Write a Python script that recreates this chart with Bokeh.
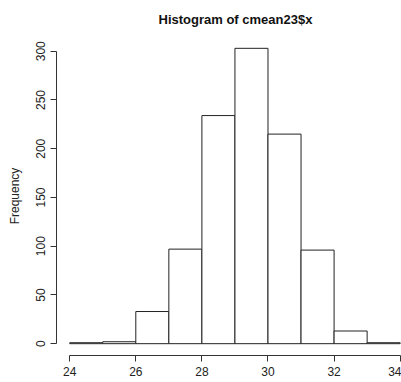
from bokeh.plotting import figure
from bokeh.models import Range1d, FixedTicker, ColumnDataSource
from bokeh.embed import file_html
from bokeh.resources import INLINE

# Histogram data (bin edges and counts)
bin_left = [24, 25, 26, 27, 28, 29, 30, 31, 32, 33]
bin_right = [25, 26, 27, 28, 29, 30, 31, 32, 33, 34]
counts = [1, 2, 33, 97, 234, 303, 215, 96, 13, 1]
x_ticks = [24, 26, 28, 30, 32, 34]
y_ticks = [0, 50, 100, 150, 200, 250, 300]
title_text = "Histogram of cmean23$x"
y_label = "Frequency"

FONT = "Liberation Sans"

src = ColumnDataSource(dict(left=bin_left, right=bin_right, top=counts, bottom=[0] * len(counts)))

p = figure(width=401, height=382, output_backend="svg", toolbar_location=None,
           x_range=Range1d(23.6, 34.04), y_range=Range1d(-12.12, 315.12),
           title=title_text)
p.min_border_left = 56
p.min_border_right = 0
p.min_border_top = 36
p.min_border_bottom = 27
p.outline_line_color = None
p.xgrid.grid_line_color = None
p.ygrid.grid_line_color = None
p.background_fill_color = "white"
p.border_fill_color = "white"

p.title.text_font = FONT
p.title.text_font_size = "13px"
p.title.text_font_style = "bold"
p.title.text_color = "#111111"
p.title.align = "left"
p.title.offset = 102
p.title.standoff = 19

p.quad(left="left", right="right", top="top", bottom="bottom", source=src,
       fill_color="white", line_color="#222222", line_width=1)

for ax in (p.xaxis[0], p.yaxis[0]):
    ax.axis_line_color = "#333333"
    ax.major_tick_line_color = "#333333"
    ax.minor_tick_line_color = None
    ax.major_tick_in = 0
    ax.major_tick_out = 6
    ax.major_label_text_font = FONT
    ax.major_label_text_font_size = "12px"
    ax.major_label_text_color = "#222222"

p.xaxis[0].ticker = FixedTicker(ticks=x_ticks)
p.xaxis[0].bounds = (24, 34)
p.xaxis[0].major_label_standoff = 5

p.yaxis[0].ticker = FixedTicker(ticks=y_ticks)
p.yaxis[0].bounds = (0, 300)
p.yaxis[0].major_label_orientation = "vertical"
p.yaxis[0].major_label_standoff = 5
p.yaxis[0].axis_label = y_label
p.yaxis[0].axis_label_text_font = FONT
p.yaxis[0].axis_label_text_font_size = "12px"
p.yaxis[0].axis_label_text_font_style = "normal"
p.yaxis[0].axis_label_text_color = "#222222"
p.yaxis[0].axis_label_standoff = 12

open("out.html", "w").write(file_html(p, INLINE))
